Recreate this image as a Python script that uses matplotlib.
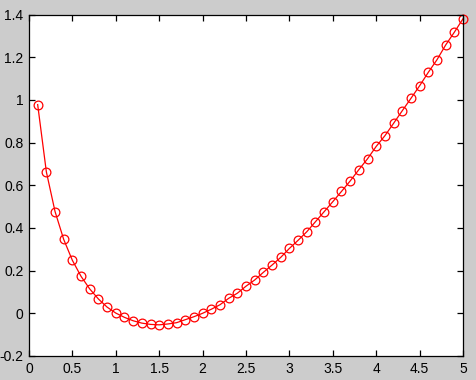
import matplotlib.pyplot as plt

# values
x = [0.1, 0.2, 0.3, 0.4, 0.5, 0.6, 0.7, 0.8, 0.9, 1.0,
     1.1, 1.2, 1.3, 1.4, 1.5, 1.6, 1.7, 1.8, 1.9, 2.0,
     2.1, 2.2, 2.3, 2.4, 2.5, 2.6, 2.7, 2.8, 2.9, 3.0,
     3.1, 3.2, 3.3, 3.4, 3.5, 3.6, 3.7, 3.8, 3.9, 4.0,
     4.1, 4.2, 4.3, 4.4, 4.5, 4.6, 4.7, 4.8, 4.9, 5.0]
y = [0.978, 0.663, 0.477, 0.346, 0.248, 0.173, 0.114, 0.067, 0.029, 0.001,
     -0.019, -0.035, -0.046, -0.052, -0.054, -0.050, -0.044, -0.030, -0.016, 0.000,
     0.019, 0.040, 0.070, 0.094, 0.127, 0.156, 0.192, 0.226, 0.262, 0.304,
     0.342, 0.382, 0.429, 0.476, 0.523, 0.571, 0.620, 0.673, 0.724, 0.782,
     0.832, 0.890, 0.949, 1.007, 1.066, 1.129, 1.188, 1.257, 1.317, 1.380]

xticks = [0, 0.5, 1, 1.5, 2, 2.5, 3, 3.5, 4, 4.5, 5]
xticklabels = ["0", "0.5", "1", "1.5", "2", "2.5", "3", "3.5", "4", "4.5", "5"]
yticks = [-0.2, 0, 0.2, 0.4, 0.6, 0.8, 1, 1.2, 1.4]
yticklabels = ["-0.2", "0", "0.2", "0.4", "0.6", "0.8", "1", "1.2", "1.4"]

plt.rcParams['font.family'] = ['Liberation Sans', 'DejaVu Sans']

fig = plt.figure(figsize=(4.76, 3.8), dpi=100, facecolor='#cccccc')
ax = fig.add_axes([0.0609, 0.0632, 0.9118, 0.8986])
ax.set_facecolor('white')

ax.plot(x, y, color='red', linewidth=0.9, marker='o', markersize=6.3,
        markerfacecolor='none', markeredgecolor='red', markeredgewidth=0.9,
        clip_on=False)

ax.set_xlim(0, 5)
ax.set_ylim(-0.2, 1.4)
ax.set_xticks(xticks)
ax.set_xticklabels(xticklabels)
ax.set_yticks(yticks)
ax.set_yticklabels(yticklabels)
ax.tick_params(direction='in', length=4, width=0.9, top=True, right=True,
               labelsize=10, pad=4)
for s in ax.spines.values():
    s.set_linewidth(0.9)

fig.savefig('out.png', dpi=100, facecolor=fig.get_facecolor())
